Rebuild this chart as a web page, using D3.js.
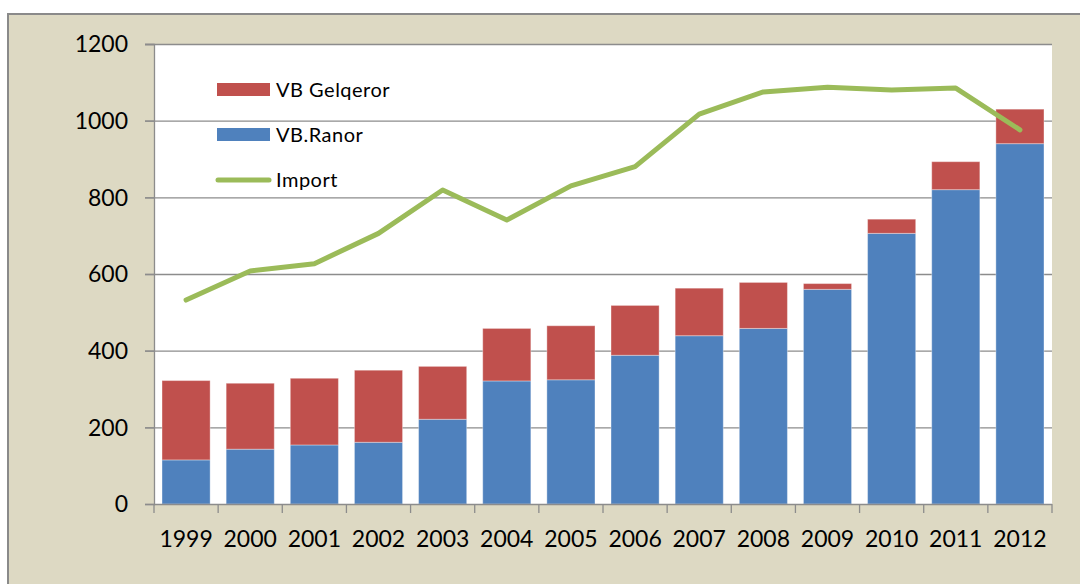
<!DOCTYPE html>
<html><head><meta charset="utf-8">
<script src="https://cdn.jsdelivr.net/npm/d3@7"></script>
<style>
html,body{margin:0;padding:0;background:#fff;}
svg{display:block;}
text{font-family:Lato,"Open Sans",sans-serif;fill:#000;}
</style></head>
<body>
<svg id="chart" width="1080" height="584"></svg>
<script>
const years = ["1999","2000","2001","2002","2003","2004","2005","2006","2007","2008","2009","2010","2011","2012"];
const ranor = [115,143,154,161,221,321,324,388,439,458,560,706,820,940];
const gelqeror = [207,172,174,188,138,137,141,130,124,120,15,37,73,90];
const importVals = [532,608,627,706,819,741,830,880,1017,1075,1087,1080,1085,976];
const yTicks = [0,200,400,600,800,1000,1200];
const seriesNames = ["VB Gelqeror","VB.Ranor","Import"];

const colors = {red:"#C0504D", blue:"#4F81BD", green:"#9BBB59", bg:"#DDD9C3", grid:"#8C8C8C"};
const svg = d3.select("#chart");

// outer frame
svg.append("rect").attr("x",8).attr("y",14).attr("width",1080).attr("height",584)
  .attr("fill",colors.bg).attr("stroke","#8a8a8a").attr("stroke-width",2);

const m = {left:154, right:1052, top:44, bottom:504};
const x = d3.scaleBand().domain(years).range([m.left,m.right]).paddingInner(0.25).paddingOuter(0.125);
const xb = d3.scaleBand().domain(years).range([m.left,m.right]);
const y = d3.scaleLinear().domain([0,1200]).range([m.bottom,m.top]);

// plot area
svg.append("rect").attr("x",m.left).attr("y",m.top).attr("width",m.right-m.left).attr("height",m.bottom-m.top).attr("fill","#fff");

// gridlines
svg.append("g").selectAll("line").data(yTicks.filter(d=>d>0)).join("line")
  .attr("x1",m.left-9).attr("x2",m.right).attr("y1",d=>y(d)+0.5).attr("y2",d=>y(d)+0.5)
  .attr("stroke",colors.grid).attr("stroke-width",1.3);

// y axis
const yAxis = svg.append("g").attr("transform",`translate(${m.left},0)`)
  .call(d3.axisLeft(y).tickValues(yTicks).tickFormat(d3.format("d")).tickSize(9).tickPadding(17));
yAxis.select(".domain").attr("stroke",colors.grid).attr("stroke-width",1.3);
yAxis.selectAll(".tick line").attr("stroke",colors.grid).attr("stroke-width",1.3);
yAxis.selectAll("text").style("font-size","23px").attr("fill","#000").style("font-family","Lato").attr("dy","0.34em");

// stacked bars
const stackData = years.map((yr,i)=>({year:yr, ranor:ranor[i], gelqeror:gelqeror[i]}));
const stack = d3.stack().keys(["ranor","gelqeror"])(stackData);
const fillFor = {ranor:colors.blue, gelqeror:colors.red};
svg.append("g").selectAll("g").data(stack).join("g")
  .attr("fill",s=>fillFor[s.key])
  .selectAll("rect").data(s=>s).join("rect")
  .attr("x",d=>x(d.data.year)).attr("width",x.bandwidth())
  .attr("y",d=>y(d[1])).attr("height",d=>y(d[0])-y(d[1]))
  .attr("stroke","rgba(255,255,255,0.35)").attr("stroke-width",1);

// x axis
const xAxisG = svg.append("g").attr("transform",`translate(0,${m.bottom})`);
xAxisG.append("line").attr("x1",m.left).attr("x2",m.right).attr("y1",0.5).attr("y2",0.5)
  .attr("stroke",colors.grid).attr("stroke-width",1.3);
const bounds = years.map(d=>xb(d)).concat([m.right]);
xAxisG.selectAll("line.tk").data(bounds).join("line").attr("class","tk")
  .attr("x1",d=>d).attr("x2",d=>d).attr("y1",0).attr("y2",9)
  .attr("stroke",colors.grid).attr("stroke-width",1.3);
xAxisG.selectAll("text").data(years).join("text")
  .attr("x",d=>xb(d)+xb.bandwidth()/2).attr("y",43)
  .attr("text-anchor","middle").style("font-size","23px").text(d=>d);

// import line
const line = d3.line().x((d,i)=>xb(years[i])+xb.bandwidth()/2).y(d=>y(d));
svg.append("path").datum(importVals).attr("d",line).attr("fill","none")
  .attr("stroke",colors.green).attr("stroke-width",5).attr("stroke-linejoin","round").attr("stroke-linecap","round");

// legend
const lg = svg.append("g");
const rows = [{name:seriesNames[0], type:"rect", c:colors.red, cy:89.5},
              {name:seriesNames[1], type:"rect", c:colors.blue, cy:134.5},
              {name:seriesNames[2], type:"line", c:colors.green, cy:180}];
rows.forEach(r=>{
  if(r.type==="rect"){
    lg.append("rect").attr("x",217).attr("y",r.cy-6.5).attr("width",53).attr("height",13).attr("fill",r.c);
  } else {
    lg.append("line").attr("x1",218).attr("x2",269).attr("y1",r.cy).attr("y2",r.cy)
      .attr("stroke",r.c).attr("stroke-width",5).attr("stroke-linecap","round");
  }
  lg.append("text").attr("x",276).attr("y",r.cy+7).style("font-size","20px").style("letter-spacing","0.5px").text(r.name);
});
</script>
</body></html>
